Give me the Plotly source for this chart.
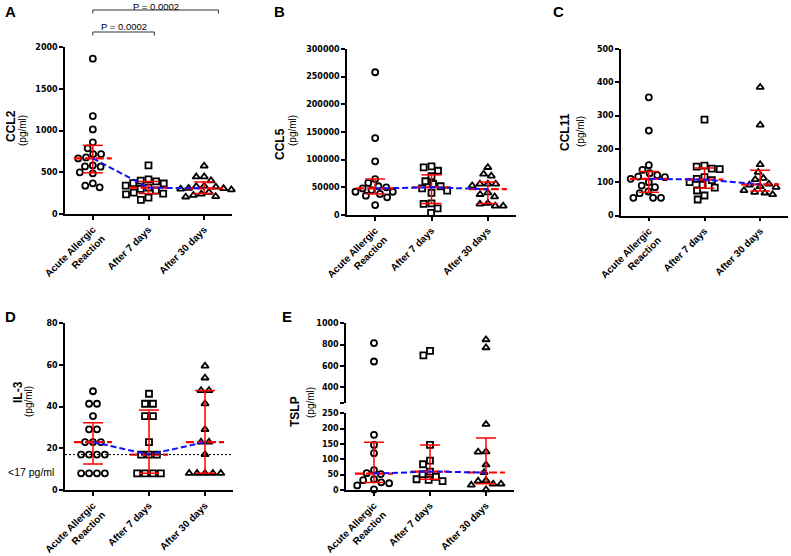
import numpy as np
import plotly.graph_objects as go

W, H = 791, 556

# ---------------- data ----------------
categories = ["Acute Allergic<br>Reaction", "After 7 days", "After 30 days"]

ccl2_acute = [1860, 1173, 1013, 858, 786, 718, 718, 678, 666, 582, 570, 567, 499, 487, 367, 339, 319]
ccl2_7d = [583, 415, 400, 390, 370, 365, 340, 315, 300, 280, 255, 245, 235, 195, 170]
ccl2_30d = [575, 447, 445, 400, 335, 330, 325, 310, 305, 300, 290, 260, 240, 225, 210, 205]

ccl5_acute = [258000, 139000, 97000, 65000, 58000, 52000, 50000, 48000, 45000, 42000, 42000, 38000, 35000, 32000, 18000]
ccl5_7d = [88000, 86000, 80000, 70000, 61000, 56000, 52000, 48000, 44000, 40000, 21000, 20000, 12000, 4000]
ccl5_30d = [86100, 74000, 70500, 56000, 56000, 56000, 53000, 40400, 37300, 33000, 21100, 19900, 16300, 16300]

ccl11_acute = [355, 255, 151, 137, 127, 121, 117, 115, 110, 100, 90, 85, 72, 67, 53, 53, 53]
ccl11_7d = [288, 150, 147, 141, 139, 115, 110, 106, 100, 92, 84, 75, 60, 48]
ccl11_30d = [385, 272, 153, 130, 112, 108, 95, 92, 87, 85, 75, 70, 68, 63]

il3_acute = [47.4, 41.4, 41.4, 35.5, 29.1, 29.1, 23, 23, 23, 17, 17, 17, 17, 8, 8, 8, 8]
il3_7d = [46.2, 41.4, 41.4, 35.5, 35.5, 23, 17, 17, 17, 8, 8, 8, 8]
il3_30d = [59.5, 53.8, 47.8, 47.8, 41.4, 29.1, 23, 23, 17, 8, 8, 8, 8, 8]
il3_detection_limit = 17

tslp_acute = [815, 642, 180, 147, 120, 65, 55, 52, 35, 32, 25, 22, 15, 2]
tslp_7d = [741, 700, 147, 96, 84, 60, 52, 43, 35, 33, 29]
tslp_30d = [847, 772, 214, 125, 124, 82, 57, 31, 29, 20, 20, 16, 1]
tslp_break = 250

p_values = ["P = 0.0002", "P = 0.0002"]

# ---------------- styling / geometry ----------------
SYMBOLS = ["circle-open", "square-open", "triangle-up-open"]
RED = "#ff0000"
BLUE = "#1010ff"
FONT = "Liberation Sans, Arial, sans-serif"
TICKFONT = dict(family="DejaVu Sans", size=8, color="black", weight="bold")
CATFONT = dict(family=FONT, size=10, color="black", weight="bold")
D_PX = 7.9  # swarm spacing in pixels


def px_x(px):
    return px / W


def px_y(py):
    return 1 - py / H


panels = [
    dict(key="A", ylabel="CCL2", data=[ccl2_acute, ccl2_7d, ccl2_30d],
         x0=65, x1=232, ybot=214, ytop=47, yr=[0, 2000], dtick=500,
         lab=(10.5, 12), t1=(11, 126), t2=(22, 131)),
    dict(key="B", ylabel="CCL5", data=[ccl5_acute, ccl5_7d, ccl5_30d],
         x0=347, x1=516, ybot=215, ytop=49, yr=[0, 300000], dtick=50000,
         lab=(279.5, 12), t1=(280, 144), t2=(292, 131)),
    dict(key="C", ylabel="CCL11", data=[ccl11_acute, ccl11_7d, ccl11_30d],
         x0=621, x1=788, ybot=215.5, ytop=49, yr=[0, 500], dtick=100,
         lab=(558, 12), t1=(565, 132), t2=(581, 132)),
    dict(key="D", ylabel="IL-3", data=[il3_acute, il3_7d, il3_30d],
         x0=65, x1=233, ybot=490, ytop=323.3, yr=[0, 80], dtick=20,
         lab=(10.5, 316), t1=(18, 392), t2=(29, 402)),
    dict(key="E", ylabel="TSLP", data=[tslp_acute, tslp_7d, tslp_30d],
         x0=346, x1=514, ybot=490, ytop=413.3, yr=[0, tslp_break], dtick=50,
         lab=(287, 316), t1=(295, 412), t2=(310, 403),
         top=dict(ybot=403.3, ytop=323.3, yr=[tslp_break, 1000])),
]

fig = go.Figure()
layout = dict(template="none", width=W, height=H, margin=dict(l=0, r=0, t=0, b=0, autoexpand=False),
              paper_bgcolor="white", plot_bgcolor="white", showlegend=False,
              annotations=[], shapes=[])

AX_COMMON = dict(showline=True, linecolor="black", linewidth=1.6, ticks="outside",
                 ticklen=4, tickwidth=1.5, tickcolor="black", showgrid=False,
                 zeroline=False, fixedrange=True, automargin=False)


def swarm(ypix, d=D_PX):
    """Simple beeswarm: returns horizontal pixel offsets."""
    n = len(ypix)
    order = np.argsort(-np.asarray(ypix), kind="stable")
    xs = [0.0] * n
    placed = []
    for i in order:
        y = ypix[i]
        cands = [0.0]
        for xj, yj in placed:
            dy = abs(y - yj)
            if dy < d:
                dx = np.sqrt(d * d - dy * dy)
                cands += [xj - dx, xj + dx]
        best = 0.0
        for c in sorted(cands, key=lambda c: (round(abs(c), 6), c)):
            if all((c - xj) ** 2 + (y - yj) ** 2 >= d * d - 1e-6 for xj, yj in placed):
                best = c
                break
        xs[i] = best
        placed.append((best, y))
    # re-centre rows of exactly tied values when that causes no overlap
    xs = np.array(xs)
    yp = np.asarray(ypix)
    for val in np.unique(yp):
        idx = np.where(yp == val)[0]
        if len(idx) < 2:
            continue
        trial = xs.copy()
        trial[idx] -= trial[idx].mean()
        ok = True
        for a in idx:
            for b in range(n):
                if b in idx:
                    continue
                if (trial[a] - trial[b]) ** 2 + (yp[a] - yp[b]) ** 2 < d * d - 1e-6:
                    ok = False
        if ok:
            xs = trial
    return xs


for k, p in enumerate(panels):
    sfx = "" if k == 0 else str(k + 1)
    xa, ya = "x" + sfx, "y" + sfx
    px_per_unit_x = (p["x1"] - p["x0"]) / 3.0
    py_per_unit = (p["ybot"] - p["ytop"]) / (p["yr"][1] - p["yr"][0])

    def to_pix(v, p=p, py_per_unit=py_per_unit):
        if "top" in p and v > p["top"]["yr"][0]:
            t = p["top"]
            s = (t["ybot"] - t["ytop"]) / (t["yr"][1] - t["yr"][0])
            return (p["ybot"] - t["ybot"]) + (v - t["yr"][0]) * s
        return (v - p["yr"][0]) * py_per_unit

    # axes
    layout["xaxis" + sfx] = dict(
        domain=[px_x(p["x0"]), px_x(p["x1"])], anchor=ya, range=[-0.5, 2.5],
        tickvals=[0, 1, 2], ticktext=categories, tickangle=-45, tickfont=CATFONT,
        **AX_COMMON)
    layout["yaxis" + sfx] = dict(
        domain=[px_y(p["ybot"]), px_y(p["ytop"])], anchor=xa, range=p["yr"],
        tick0=0, dtick=p["dtick"], tickformat="d", tickfont=TICKFONT, **AX_COMMON)
    ya_top = None
    if "top" in p:
        t = p["top"]
        ya_top = "y6"
        layout["yaxis6"] = dict(
            domain=[px_y(t["ybot"]), px_y(t["ytop"])], anchor=xa, range=t["yr"],
            tickvals=[250, 400, 600, 800, 1000], ticktext=["", "400", "600", "800", "1000"],
            tickfont=TICKFONT, **AX_COMMON)

    medians = []
    for g, vals in enumerate(p["data"]):
        vals = np.asarray(vals, dtype=float)
        ypix = [to_pix(v) for v in vals]
        offs = swarm(ypix) / px_per_unit_x
        xs = g + offs
        mk = dict(symbol=SYMBOLS[g], size=6 if g < 2 else 6.5, color="black",
                  line=dict(color="black", width=1.8))
        if ya_top is not None:
            lo = vals <= tslp_break
            fig.add_trace(go.Scatter(x=xs[lo], y=vals[lo], mode="markers", marker=mk,
                                     xaxis=xa, yaxis=ya, cliponaxis=False, hoverinfo="y"))
            fig.add_trace(go.Scatter(x=xs[~lo], y=vals[~lo], mode="markers", marker=mk,
                                     xaxis=xa, yaxis=ya_top, cliponaxis=False, hoverinfo="y"))
        else:
            fig.add_trace(go.Scatter(x=xs, y=vals, mode="markers", marker=mk,
                                     xaxis=xa, yaxis=ya, cliponaxis=False, hoverinfo="y"))
        q1, med, q3 = np.percentile(vals, [25, 50, 75], method="weibull")
        medians.append(med)
        # IQR bar with caps
        cw = 10 / px_per_unit_x
        fig.add_trace(go.Scatter(
            x=[g, g, None, g - cw, g + cw, None, g - cw, g + cw],
            y=[q1, q3, None, q1, q1, None, q3, q3], mode="lines",
            line=dict(color=RED, width=1.5), xaxis=xa, yaxis=ya,
            cliponaxis=False, hoverinfo="skip"))
        mw = 19 / px_per_unit_x
        fig.add_trace(go.Scatter(
            x=[g - mw, g + mw], y=[med, med], mode="lines",
            line=dict(color=RED, width=2.2, dash="8px,3px"), xaxis=xa, yaxis=ya,
            cliponaxis=False, hoverinfo="skip"))
    fig.add_trace(go.Scatter(
        x=[0, 1, 2], y=medians, mode="lines",
        line=dict(color=BLUE, width=2, dash="6px,3px"), xaxis=xa, yaxis=ya,
        cliponaxis=False, hoverinfo="skip"))

    if p["key"] == "D":
        fig.add_trace(go.Scatter(
            x=[-0.5, 2.5], y=[il3_detection_limit] * 2, mode="lines",
            line=dict(color="black", width=1, dash="2px,2px"), xaxis=xa, yaxis=ya,
            hoverinfo="skip"))
        layout["annotations"].append(dict(
            text="&lt;17 pg/ml", x=px_x(31), y=px_y(472), xref="paper", yref="paper",
            showarrow=False, xanchor="center", yanchor="middle",
            font=dict(family=FONT, size=10.5, color="black")))

    # panel letter and axis titles
    layout["annotations"].append(dict(
        text=p["key"], x=px_x(p["lab"][0]), y=px_y(p["lab"][1]), xref="paper", yref="paper",
        showarrow=False, xanchor="center", yanchor="middle",
        font=dict(family=FONT, size=15, color="black", weight="bold")))
    layout["annotations"].append(dict(
        text=p["ylabel"], x=px_x(p["t1"][0]), y=px_y(p["t1"][1]), xref="paper", yref="paper",
        showarrow=False, textangle=-90, xanchor="center", yanchor="middle",
        font=dict(family=FONT, size=12, color="black", weight="bold")))
    layout["annotations"].append(dict(
        text="(pg/ml)", x=px_x(p["t2"][0]), y=px_y(p["t2"][1]), xref="paper", yref="paper",
        showarrow=False, textangle=-90, xanchor="center", yanchor="middle",
        font=dict(family=FONT, size=10, color="black")))

# significance brackets in panel A
pa = panels[0]
ppu = (pa["x1"] - pa["x0"]) / 3.0
brackets = [  # (right end in category units, bar y px, text top y px)
    ((218.5 - (pa["x0"] + ppu * 0.5)) / ppu, 10, -0.5, p_values[1]),
    ((154.3 - (pa["x0"] + ppu * 0.5)) / ppu, 32, 19.5, p_values[0]),
]
for xr, yb, yt, txt in brackets:
    for (xa0, ya0, xa1, ya1) in [(0, yb, xr, yb), (0, yb, 0, yb + 3.5), (xr, yb, xr, yb + 3.5)]:
        layout["shapes"].append(dict(type="line", xref="x", yref="paper",
                                     x0=xa0, x1=xa1, y0=px_y(ya0), y1=px_y(ya1),
                                     line=dict(color="#333333", width=1)))
    layout["annotations"].append(dict(
        text=txt, x=xr / 2, y=min(1.0, px_y(yt)), xref="x", yref="paper", showarrow=False,
        xanchor="center", yanchor="top", borderpad=0,
        font=dict(family=FONT, size=9.5, color="black")))

fig.update_layout(**layout)
fig.write_html("out.html", config={"displayModeBar": False},
               post_script="document.body.style.margin='0';")
